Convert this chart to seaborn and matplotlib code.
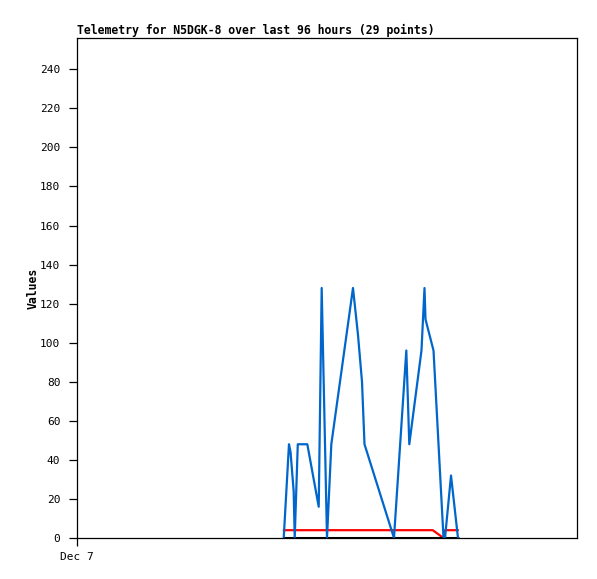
import matplotlib
matplotlib.use("Agg")
import matplotlib.pyplot as plt
import seaborn as sns
import pandas as pd

# Hours since Dec 7 00:00 and telemetry values
blue_hours = [39.69, 40.70, 41.00, 41.30, 41.60, 41.80, 42.39, 44.22, 46.41, 46.98,
              48.00, 48.83, 52.99, 53.95, 54.72, 55.20, 60.86, 63.23, 63.80, 66.14,
              66.72, 66.91, 68.45, 70.37, 70.66, 71.81, 73.15]
blue_values = [0, 48, 44, 34, 24, 0, 48, 48, 16, 128,
               0, 48, 128, 104, 80, 48, 0, 96, 48, 96,
               128, 112, 96, 0, 0, 32, 0]
red_hours = [39.69, 68.30, 70.37, 70.66, 73.15]
red_values = [4, 4, 0, 4, 4]
black_hours = [39.69, 73.15]
black_values = [0, 0]

x_ticks = [0]
x_tick_labels = ["Dec 7"]
y_ticks = [0, 20, 40, 60, 80, 100, 120, 140, 160, 180, 200, 220, 240]

title = "Telemetry for N5DGK-8 over last 96 hours (29 points)"
y_label = "Values"

sns.set_style("white")
plt.rcParams["font.family"] = ["DejaVu Sans Mono", "DejaVu Sans"]
plt.rcParams["text.color"] = "black"
plt.rcParams["axes.labelcolor"] = "black"

W, H = 597, 579
fig = plt.figure(figsize=(W / 100, H / 100), dpi=100)
ax = fig.add_axes([77 / W, (H - 538) / H, 500 / W, 500 / H])

red_df = pd.DataFrame({"t": red_hours, "v": red_values})
black_df = pd.DataFrame({"t": black_hours, "v": black_values})
blue_df = pd.DataFrame({"t": blue_hours, "v": blue_values})

sns.lineplot(data=red_df, x="t", y="v", ax=ax, color="#FF0000", lw=1.6,
             estimator=None, sort=False)
sns.lineplot(data=black_df, x="t", y="v", ax=ax, color="#000000", lw=2.2,
             estimator=None, sort=False)
sns.lineplot(data=blue_df, x="t", y="v", ax=ax, color="#0066CC", lw=1.6,
             estimator=None, sort=False)

ax.set_xlim(0, 96)
ax.set_ylim(0, 256)
ax.set_xticks(x_ticks)
ax.set_xticklabels(x_tick_labels)
ax.set_yticks(y_ticks)
ax.set_yticklabels([str(v) for v in y_ticks])
ax.tick_params(axis="both", direction="out", length=6, width=0.9, color="black",
               labelsize=8, labelcolor="black")
ax.tick_params(axis="y", pad=6, left=True)
ax.tick_params(axis="x", pad=4, bottom=True)

for s in ax.spines.values():
    s.set_visible(True)
    s.set_color("black")
    s.set_linewidth(0.9)

ax.set_xlabel("")
ax.set_ylabel(y_label, fontsize=8.3, fontweight="bold", labelpad=0, color="black")
ax.set_title(title, loc="left", fontsize=8.3, fontweight="bold", pad=3, color="black")

fig.savefig("out.png", dpi=100)
